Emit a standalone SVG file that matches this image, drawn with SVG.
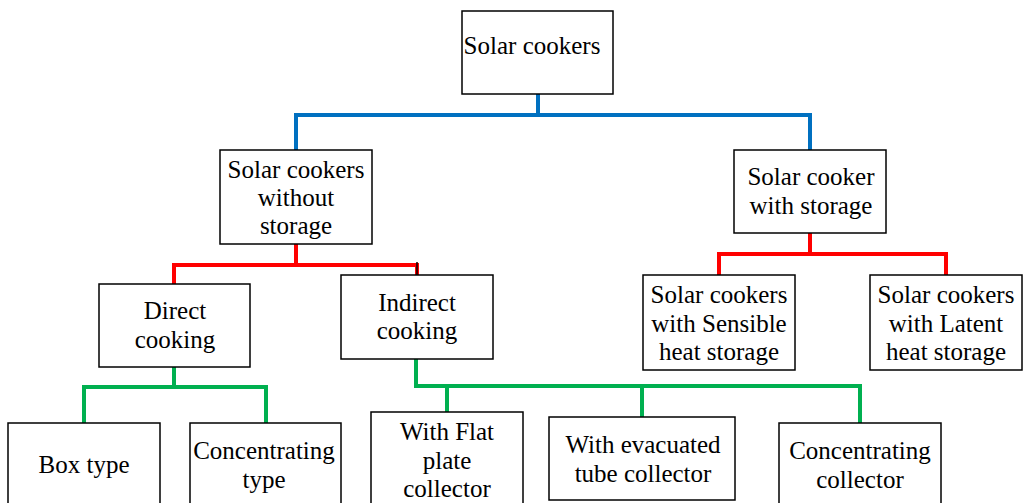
<svg xmlns="http://www.w3.org/2000/svg" width="1023" height="503" viewBox="0 0 1023 503">
<style>
.box{fill:#fff;stroke:#000;stroke-width:1.5}
.c{fill:none;stroke-width:4;stroke-linejoin:miter;stroke-linecap:butt}
.blue{stroke:#0070C0}
.red{stroke:#FF0000}
.green{stroke:#00B050}
text{font-family:"Liberation Serif",serif !important;font-size:25px;fill:#000;text-anchor:middle}
</style>
<rect width="1023" height="503" fill="#fff"/>
<g id="connectors">
<path class="c blue" d="M538 94 V115 M296 150 V115 H810 V150"/>
<path class="c red" d="M296 244 V265 M174 284 V265 H417 V276"/>
<path class="c red" d="M810 233 V254 M719 275 V254 H946 V275"/>
<path class="c green" d="M174 367 V387 M84 423 V387 H266 V423"/>
<path class="c green" d="M416 359 V386 H860 V423 M447 386 V412 M642 386 V417"/>
<path d="M417 262 V276" stroke="#000" stroke-width="1.5" fill="none"/>
</g>
<g id="solar-cookers"><rect class="box" x="462" y="11" width="151" height="83"/><text style="font-family:'Liberation Serif',serif !important" x="532" y="54">Solar cookers</text></g>
<g id="without-storage"><rect class="box" x="220" y="150" width="152" height="94"/><text style="font-family:'Liberation Serif',serif !important" x="296" y="178">Solar cookers</text><text style="font-family:'Liberation Serif',serif !important" x="296" y="206">without</text><text style="font-family:'Liberation Serif',serif !important" x="296" y="234">storage</text></g>
<g id="with-storage"><rect class="box" x="734" y="150" width="152" height="83"/><text style="font-family:'Liberation Serif',serif !important" x="811" y="185">Solar cooker</text><text style="font-family:'Liberation Serif',serif !important" x="811" y="214">with storage</text></g>
<g id="direct-cooking"><rect class="box" x="99" y="284" width="151" height="83"/><text style="font-family:'Liberation Serif',serif !important" x="175" y="319">Direct</text><text style="font-family:'Liberation Serif',serif !important" x="175" y="348">cooking</text></g>
<g id="indirect-cooking"><rect class="box" x="341" y="275" width="152" height="84"/><text style="font-family:'Liberation Serif',serif !important" x="417" y="311">Indirect</text><text style="font-family:'Liberation Serif',serif !important" x="417" y="339">cooking</text></g>
<g id="sensible"><rect class="box" x="643" y="275" width="152" height="95"/><text style="font-family:'Liberation Serif',serif !important" x="719" y="303">Solar cookers</text><text style="font-family:'Liberation Serif',serif !important" x="719" y="332">with Sensible</text><text style="font-family:'Liberation Serif',serif !important" x="719" y="360">heat storage</text></g>
<g id="latent"><rect class="box" x="870" y="275" width="152" height="95"/><text style="font-family:'Liberation Serif',serif !important" x="946" y="303">Solar cookers</text><text style="font-family:'Liberation Serif',serif !important" x="946" y="332">with Latent</text><text style="font-family:'Liberation Serif',serif !important" x="946" y="360">heat storage</text></g>
<g id="box-type"><rect class="box" x="8" y="423" width="152" height="90"/><text style="font-family:'Liberation Serif',serif !important" x="84" y="473">Box type</text></g>
<g id="concentrating-type"><rect class="box" x="190" y="423" width="151" height="90"/><text style="font-family:'Liberation Serif',serif !important" x="264" y="459">Concentrating</text><text style="font-family:'Liberation Serif',serif !important" x="264" y="488">type</text></g>
<g id="flat-plate"><rect class="box" x="371" y="412" width="152" height="100"/><text style="font-family:'Liberation Serif',serif !important" x="447" y="440">With Flat</text><text style="font-family:'Liberation Serif',serif !important" x="447" y="469">plate</text><text style="font-family:'Liberation Serif',serif !important" x="447" y="497">collector</text></g>
<g id="evacuated-tube"><rect class="box" x="549" y="417" width="186" height="83"/><text style="font-family:'Liberation Serif',serif !important" x="643" y="453">With evacuated</text><text style="font-family:'Liberation Serif',serif !important" x="643" y="482">tube collector</text></g>
<g id="concentrating-collector"><rect class="box" x="779" y="423" width="162" height="90"/><text style="font-family:'Liberation Serif',serif !important" x="860" y="459">Concentrating</text><text style="font-family:'Liberation Serif',serif !important" x="860" y="488">collector</text></g>
</svg>
